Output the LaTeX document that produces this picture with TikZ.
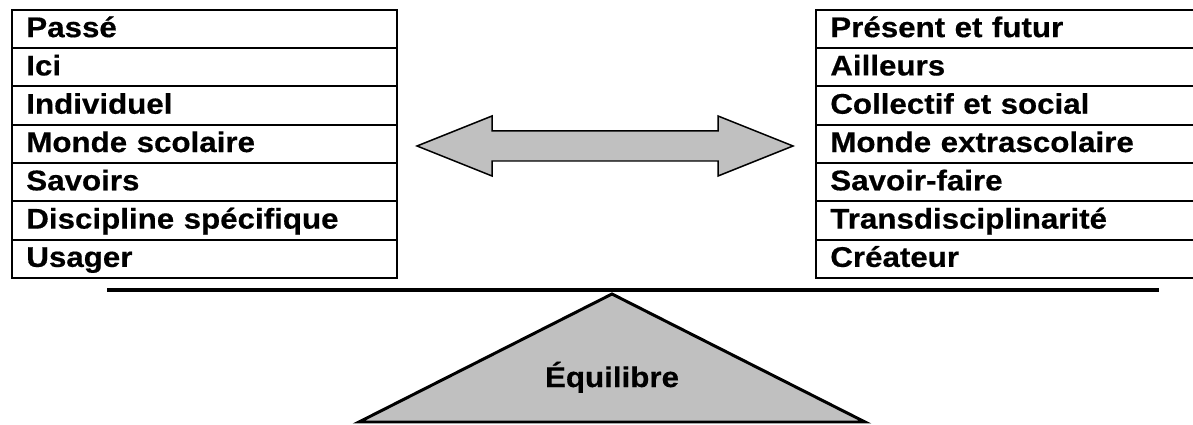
\documentclass[tikz,border=0pt]{standalone}
\usepackage{fontspec}
\newfontfamily\labelfamily{Liberation Sans}[FakeStretch=1.10, FakeBold=0.5]
\newcommand\labelfont{\labelfamily\bfseries\fontsize{16.2}{19}\selectfont}
\usepackage{tikz}
\usetikzlibrary{matrix}
\definecolor{silver}{HTML}{C0C0C0}

\begin{document}
\begin{tikzpicture}[x=0.02cm, y=-0.02cm,
	cell/.style={draw, line width=1.1pt, minimum width=7.7cm, minimum height=0.766cm, text width=7.12cm, inner xsep=0.29cm, inner ysep=0pt, outer sep=0pt, align=left, text height=13.5pt, text depth=4.2pt, font=\labelfont},
	cellcolumn/.style={matrix of nodes, nodes={cell}, row sep=-1.1pt, inner sep=0pt, anchor=north west},
	greyfill/.style={draw, fill=silver, line join=miter}]
\useasboundingbox (0,0) rectangle (1193,425);
\clip (0,0) rectangle (1193,425);
\matrix (past) [cellcolumn] at (10.5,8.5)
{
	Passé \\
	Ici \\
	Individuel \\
	Monde scolaire \\
	Savoirs \\
	Discipline spécifique \\
	Usager \\
};
\matrix (future) [cellcolumn] at (814.5,8.5)
{
	Présent et futur \\
	Ailleurs \\
	Collectif et social \\
	Monde extrascolaire \\
	Savoir-faire \\
	Transdisciplinarité \\
	Créateur \\
};
% double arrow between the two columns
\draw[greyfill, line width=0.85pt] (417,146) -- (492,116) -- (492,131) -- (718,131) -- (718,116) -- (793,146)
	-- (718,176) -- (718,161) -- (492,161) -- (492,176) -- cycle;
% balance
\draw[greyfill, line width=1.7pt] (612,294) -- (359,422) -- (865,422) -- cycle;
\node (balance) [font=\labelfont, anchor=base, inner sep=0pt] at (612,387) {Équilibre};
\coordinate (beam-l) at (107,290);
\coordinate (beam-r) at (1159,290);
\draw[line width=2.3pt] (beam-l) -- (beam-r);
\end{tikzpicture}
\end{document}
